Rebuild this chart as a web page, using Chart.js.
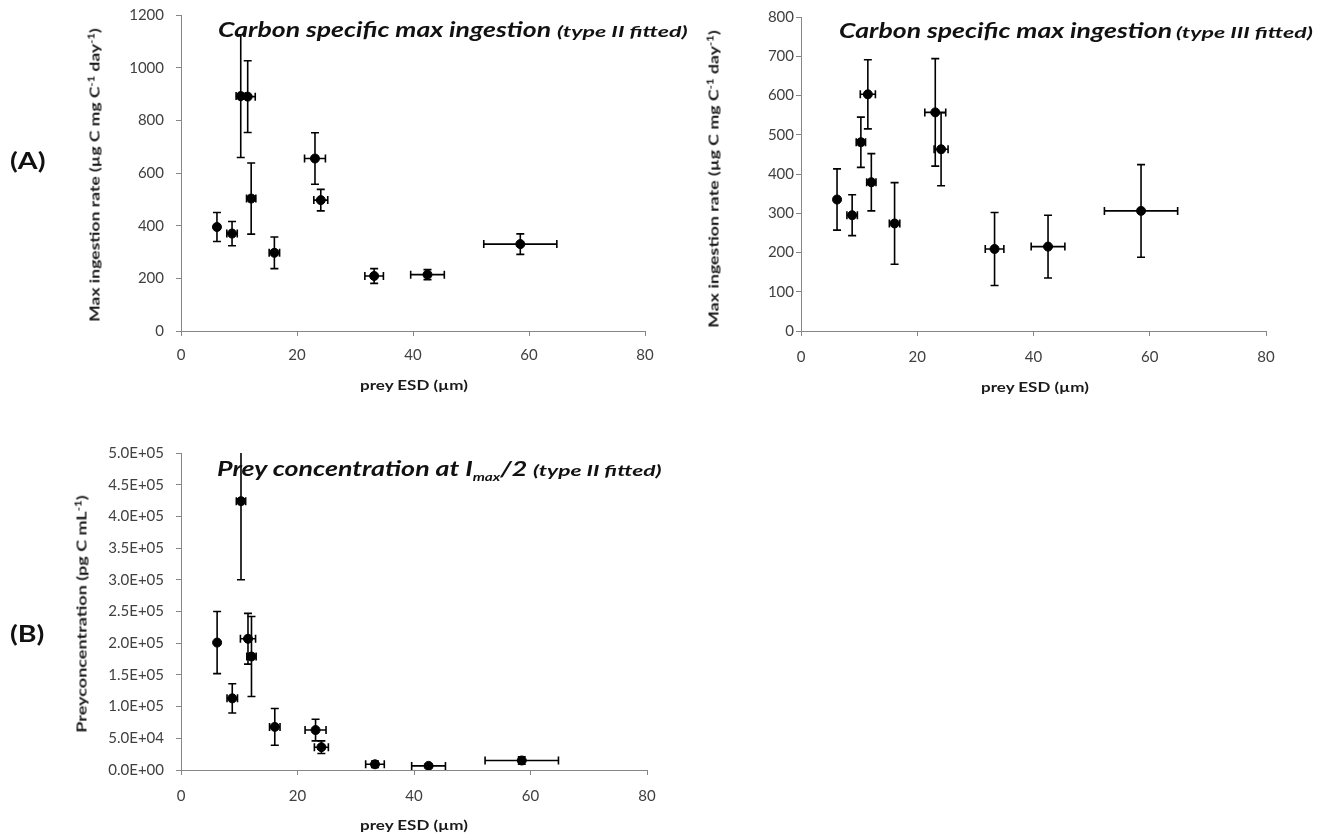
<!DOCTYPE html>
<html>
<head>
<meta charset="utf-8">
<script src="https://cdn.jsdelivr.net/npm/chart.js@4/dist/chart.umd.min.js"></script>
<style>
  body { margin: 0; background: #fff; font-family: Lato, sans-serif; }
  #page { position: relative; width: 1332px; height: 837px; }
  .box { position: absolute; }
  .txt { position: absolute; white-space: nowrap; color: #111; line-height: 26px; }
  .ttl { font-weight: bold; font-style: italic; font-size: 21px; transform-origin: 0 50%; transform: scaleX(var(--k, 1)); }
  .sub { font-weight: bold; font-style: italic; font-size: 16px; transform-origin: 0 50%; transform: scaleX(var(--k, 1)); }
  .ttl sub { font-size: 12px; }
  .tag { font-weight: bold; font-size: 22px; transform-origin: 0 50%; transform: scaleX(var(--k, 1)); }
  .ax { font-weight: bold; font-size: 14px; line-height: 16px; color: #1a1a1a; transform: translate(-50%, -50%) scaleX(var(--k, 1)); }
  .ax.v { transform: translate(-50%, -50%) rotate(-90deg) scaleX(var(--k, 1)); }
  .ax sup { font-size: 9px; vertical-align: 5px; }
</style>
</head>
<body>
<div id="page">
  <div class="box" style="left:0;top:0"><canvas id="imax2" width="660" height="400"></canvas></div>
  <div class="box" style="left:680px;top:0"><canvas id="imax3" width="600" height="400"></canvas></div>
  <div class="box" style="left:0;top:440px"><canvas id="khalf" width="660" height="400"></canvas></div>

  <div class="txt tag" style="left:10px;top:148px" data-w="35">(A)</div>
  <div class="txt tag" style="left:10px;top:621px" data-w="35">(B)</div>

  <div class="txt ttl" style="left:218px;top:16px" data-w="333">Carbon specific max ingestion</div>
  <div class="txt sub" style="left:557px;top:18px" data-w="130">(type II fitted)</div>
  <div class="txt ttl" style="left:839px;top:17px" data-w="333">Carbon specific max ingestion</div>
  <div class="txt sub" style="left:1176px;top:19px" data-w="137">(type III fitted)</div>
  <div class="txt ttl" style="left:217px;top:455px" data-w="310">Prey concentration at I<sub>max</sub>/2</div>
  <div class="txt sub" style="left:533px;top:457px" data-w="128">(type II fitted)</div>

  <div class="txt ax v" style="left:93px;top:175px" data-w="294">Max ingestion rate (µg C mg C<sup>-1</sup> day<sup>-1</sup>)</div>
  <div class="txt ax" style="left:414px;top:385px" data-w="108">prey ESD (µm)</div>
  <div class="txt ax v" style="left:712px;top:179px" data-w="298">Max ingestion rate (µg C mg C<sup>-1</sup> day<sup>-1</sup>)</div>
  <div class="txt ax" style="left:1035px;top:387px" data-w="108">prey ESD (µm)</div>
  <div class="txt ax v" style="left:80px;top:614px" data-w="238">Preyconcentration (pg C mL<sup>-1</sup>)</div>
  <div class="txt ax" style="left:414px;top:825px" data-w="108">prey ESD (µm)</div>
</div>

<script>
// prey size (ESD, µm) and its spread, same prey for every panel
const esd    = [6.2, 8.8, 10.3, 11.5, 12.1, 16.1, 23.1, 24.1, 33.3, 42.5, 58.5];
const esdErr = [0, 0.9, 0.8, 1.3, 0.8, 0.9, 1.8, 1.2, 1.6, 2.9, 6.3];

// max ingestion, type II fit
const imaxII    = [395, 370, 892, 890, 503, 297, 655, 497, 209, 214, 330];
const imaxIIErr = [55, 46, 233, 136, 135, 60, 98, 41, 28, 19, 39];

// max ingestion, type III fit
const imaxIII    = [335, 295, 481, 603, 379, 274, 557, 463, 209, 215, 306];
const imaxIIIErr = [78, 52, 64, 88, 73, 104, 137, 93, 93, 80, 118];

// prey concentration at Imax/2, type II fit
const kHalf    = [201000, 113000, 424000, 207000, 179000, 68000, 63000, 36000, 9000, 6500, 15000];
const kHalfErr = [49000, 23000, 124000, 40000, 63000, 29000, 17000, 10000, 5000, 3000, 6000];

const xTicks = [0, 20, 40, 60, 80];

const tickFont = { family: 'Lato', size: 15 };
const axisGrey = '#868686';

// stretch the html labels to their set length
document.querySelectorAll('[data-w]').forEach(el => {
  el.style.setProperty('--k', (+el.dataset.w / el.offsetWidth).toFixed(3));
});

// draws x/y error bars with caps under the points
const errorBars = {
  id: 'errorBars',
  beforeDatasetsDraw(chart) {
    const { ctx, chartArea: a, scales: { x, y } } = chart;
    ctx.save();
    ctx.beginPath();
    ctx.rect(a.left, a.top, a.right - a.left, a.bottom - a.top);
    ctx.clip();
    ctx.strokeStyle = '#000';
    ctx.lineWidth = 1.6;
    chart.data.datasets.forEach(ds => {
      ds.data.forEach((p, i) => {
        const px = x.getPixelForValue(p.x);
        const py = y.getPixelForValue(p.y);
        const cap = 4;
        const ye = ds.yErr[i], xe = ds.xErr[i];
        if (ye) {
          const t = y.getPixelForValue(p.y + ye), b = y.getPixelForValue(p.y - ye);
          ctx.beginPath();
          ctx.moveTo(px, t); ctx.lineTo(px, b);
          ctx.moveTo(px - cap, t); ctx.lineTo(px + cap, t);
          ctx.moveTo(px - cap, b); ctx.lineTo(px + cap, b);
          ctx.stroke();
        }
        if (xe) {
          const l = x.getPixelForValue(p.x - xe), r = x.getPixelForValue(p.x + xe);
          ctx.beginPath();
          ctx.moveTo(l, py); ctx.lineTo(r, py);
          ctx.moveTo(l, py - cap); ctx.lineTo(l, py + cap);
          ctx.moveTo(r, py - cap); ctx.lineTo(r, py + cap);
          ctx.stroke();
        }
      });
    });
    ctx.restore();
  }
};

function sci(v) {
  const [m, e] = Number(v).toExponential(1).split('e');
  const n = Math.abs(parseInt(e, 10));
  return m + 'E' + (e[0] === '-' ? '-' : '+') + String(n).padStart(2, '0');
}

function makeChart(id, vals, errs, o) {
  const pts = esd.map((x, i) => ({ x: x, y: vals[i] }));
  return new Chart(document.getElementById(id), {
    type: 'scatter',
    data: {
      datasets: [{
        data: pts,
        xErr: esdErr,
        yErr: errs,
        pointStyle: 'circle',
        pointRadius: 4.5,
        pointHoverRadius: 4.5,
        backgroundColor: '#000',
        borderColor: '#000'
      }]
    },
    options: {
      responsive: false,
      animation: false,
      events: [],
      layout: { padding: { left: 0, top: o.top, right: o.right, bottom: 0 } },
      plugins: { legend: { display: false }, tooltip: { enabled: false } },
      scales: {
        x: {
          type: 'linear', min: 0, max: 80,
          afterBuildTicks: s => { s.ticks = xTicks.map(v => ({ value: v })); },
          // fixed box, layout padding alone sets the plot edges
          afterFit: s => { s.height = o.xHeight; s.paddingLeft = 0; s.paddingRight = 0; },
          border: { color: axisGrey, width: 1 },
          grid: { drawOnChartArea: false, color: axisGrey, tickLength: 5 },
          ticks: { color: '#404040', font: tickFont, padding: o.xPad }
        },
        y: {
          type: 'linear', min: 0, max: o.yMax,
          afterFit: s => { s.width = o.yWidth; s.paddingTop = 0; s.paddingBottom = 0; },
          border: { color: axisGrey, width: 1 },
          grid: { drawOnChartArea: false, color: axisGrey, tickLength: 5 },
          ticks: { color: '#404040', font: tickFont, stepSize: o.yStep, padding: o.yPad, callback: o.fmt || (v => v) }
        }
      }
    },
    plugins: [errorBars]
  });
}

makeChart('imax2', imaxII, imaxIIErr, {
  top: 15, right: 15, xHeight: 69, yWidth: 181, yMax: 1200, yStep: 200, xPad: 10, yPad: 12
});

makeChart('imax3', imaxIII, imaxIIIErr, {
  top: 17, right: 14, xHeight: 69, yWidth: 121, yMax: 800, yStep: 100, xPad: 12, yPad: 2
});

makeChart('khalf', kHalf, kHalfErr, {
  top: 13, right: 13, xHeight: 70, yWidth: 181, yMax: 500000, yStep: 50000, xPad: 12, yPad: 12, fmt: sci
});
</script>
</body>
</html>
